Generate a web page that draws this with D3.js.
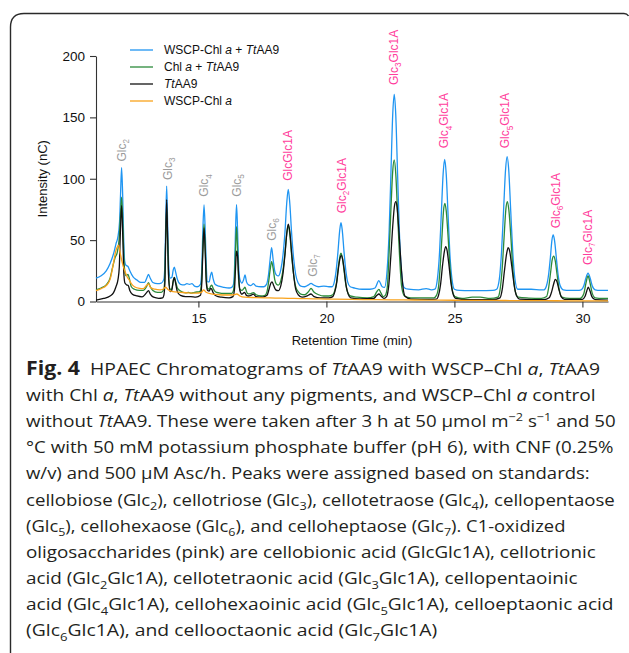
<!DOCTYPE html>
<html>
<head>
<meta charset="utf-8">
<script src="https://cdn.jsdelivr.net/npm/d3@7/dist/d3.min.js"></script>
<style>
  body { margin: 0; background: #fff; }
  svg { display: block; }
</style>
</head>
<body>
<svg id="fig" width="629" height="653"></svg>
<script>
// chromatogram traces, [retention time (min), intensity (nC)]
const wscpTtaa9 = [
  [11.0,19],[11.2,21],[11.4,25],[11.55,31],[11.7,40],[11.78,47],[11.85,52],[11.92,65],[11.96,88],[12.0,109],
  [12.04,88],[12.08,52],[12.12,33],[12.17,29.5],[12.25,28.5],[12.32,25],[12.45,20],[12.6,17.5],[12.75,15.5],
  [12.9,15.5],[12.98,19],[13.05,22],[13.12,19],[13.22,15.5],[13.4,14.5],[13.55,15],[13.65,18],[13.69,30],
  [13.72,60],[13.76,94],[13.8,62],[13.84,30],[13.9,19],[13.96,19.5],[14.02,26],[14.06,28],[14.1,25],
  [14.18,18],[14.3,14],[14.45,13.5],[14.55,14.5],[14.65,14],[14.75,14.5],[14.85,12.5],[14.95,12],[15.08,14],
  [15.13,25],[15.17,55],[15.22,78.6],[15.27,55],[15.31,28],[15.36,16],[15.42,16],[15.47,21],[15.52,24],
  [15.57,19],[15.65,14],[15.8,12.5],[16.0,11.5],[16.2,11],[16.3,11.5],[16.37,14],[16.41,26],[16.45,58],
  [16.49,79],[16.53,58],[16.57,30],[16.62,18],[16.7,15],[16.77,18],[16.82,21.6],[16.88,16],[16.96,13.5],
  [17.05,13],[17.15,14.5],[17.25,12.5],[17.45,12],[17.55,12],[17.66,14],[17.74,22],[17.8,34],[17.86,43.8],
  [17.92,34],[17.98,25],[18.05,21.5],[18.12,20.8],[18.22,26],[18.3,37],[18.38,56],[18.45,80],[18.51,91.4],
  [18.57,80],[18.64,56],[18.72,35],[18.8,22],[18.9,15],[19.0,12.5],[19.15,12],[19.3,13.5],[19.4,14.8],
  [19.5,13.5],[19.7,12],[19.9,12.5],[20.1,12],[20.22,12],[20.31,16],[20.38,25],[20.45,40],[20.52,58],
  [20.57,64.2],[20.62,58],[20.69,40],[20.76,25],[20.83,16],[20.93,12],[21.1,11],[21.4,10],[21.7,10],
  [21.9,11],[22.05,17],[22.18,12],[22.27,11.5],[22.37,25],[22.45,57],[22.52,104],[22.59,152],[22.65,168.8],
  [22.71,152],[22.78,104],[22.85,57],[22.93,25],[23.03,11.5],[23.2,10],[23.6,9.5],[23.9,10.5],[24.1,9.5],
  [24.24,10],[24.34,19],[24.42,40],[24.49,72],[24.56,104],[24.62,115.8],[24.68,104],[24.75,72],[24.82,40],
  [24.9,19],[25.0,10],[25.2,9],[25.6,8.8],[26.0,8.8],[26.5,9],[26.65,10],[26.76,19],[26.84,40],[26.92,74],
  [27.0,108],[27.06,118],[27.12,108],[27.2,74],[27.28,40],[27.36,19],[27.47,10],[27.6,10],[28.0,10],
  [28.4,9.5],[28.5,9.5],[28.6,13],[28.68,22],[28.75,36],[28.81,50],[28.86,54.2],[28.91,50],[28.98,36],
  [29.05,22],[29.13,13],[29.25,9.5],[29.5,9],[29.8,9],[29.95,9.5],[30.06,13],[30.13,18.5],[30.22,23],
  [30.31,18.5],[30.38,13],[30.5,9.5],[30.7,9],[31.0,9]
];
const chlTtaa9 = [
  [11.0,9.5],[11.2,11],[11.4,13.5],[11.55,19],[11.65,28],[11.75,36],[11.83,40],[11.9,50],[11.95,68],[12.0,85],
  [12.05,62],[12.09,35],[12.13,24],[12.18,21],[12.25,22],[12.3,19],[12.38,12],[12.5,10],[12.7,9],[12.85,9],
  [12.97,12],[13.05,15.3],[13.12,12],[13.22,9],[13.4,7.5],[13.55,7.5],[13.65,10],[13.69,20],[13.72,48],
  [13.76,76],[13.8,48],[13.84,20],[13.9,10],[13.96,10],[14.02,17],[14.06,19.7],[14.1,17],[14.18,11],
  [14.3,8.5],[14.5,7],[14.62,7.5],[14.72,6.8],[14.85,7.5],[15.05,8],[15.08,9],[15.13,18],[15.17,42],[15.22,63],
  [15.27,42],[15.31,18],[15.36,10.5],[15.42,10],[15.48,12.5],[15.52,13.4],[15.58,10.5],[15.66,8],[15.8,7],
  [16.0,6.5],[16.3,6.5],[16.37,9],[16.41,18],[16.45,42],[16.49,61],[16.53,42],[16.57,18],[16.62,10],
  [16.7,9],[16.77,10.5],[16.82,11.6],[16.88,8],[16.95,6.2],[17.05,6.5],[17.15,7.2],[17.25,5.5],[17.45,4.5],
  [17.6,5],[17.68,8],[17.75,17],[17.81,27],[17.86,32.4],[17.92,27],[17.98,18],[18.05,14],[18.12,13.4],
  [18.22,17],[18.3,25],[18.38,39],[18.45,55],[18.51,62],[18.57,55],[18.64,38],[18.72,22],[18.8,12],
  [18.9,8],[19.0,6],[19.15,5.5],[19.3,8],[19.4,10.7],[19.5,8],[19.7,5.5],[19.9,4.5],[20.1,4.5],[20.25,5.5],
  [20.33,9],[20.4,16],[20.46,27],[20.52,36],[20.57,39.3],[20.62,36],[20.68,27],[20.75,15],[20.83,7.5],
  [20.93,4.5],[21.2,3.5],[21.6,3],[21.85,4],[21.97,8],[22.05,9.9],[22.13,7],[22.22,4],[22.3,5],[22.38,12],
  [22.45,40],[22.52,75],[22.59,106],[22.65,115.3],[22.71,104],[22.78,72],[22.86,36],[22.94,12],[23.05,4.5],
  [23.3,3],[23.8,3],[24.2,3],[24.3,5],[24.38,12],[24.45,30],[24.52,55],[24.58,75],[24.63,80],[24.68,74],
  [24.75,54],[24.83,27],[24.92,9],[25.02,4],[25.3,2.5],[25.7,3.5],[26.0,3.5],[26.4,2.5],[26.7,3.5],
  [26.78,9],[26.86,25],[26.94,52],[27.01,75],[27.07,81.3],[27.13,74],[27.21,51],[27.29,24],[27.38,8],
  [27.5,3.5],[27.9,2.8],[28.4,2.5],[28.6,4],[28.68,11],[28.76,24],[28.82,34],[28.88,37],[28.94,33],
  [29.01,22],[29.1,9],[29.2,3.5],[29.5,2.5],[29.9,2.5],[30.05,6],[30.14,15],[30.22,20.8],[30.3,15],
  [30.38,7],[30.5,3],[30.8,2.5],[31.0,2.5]
];
const ttaa9 = [
  [11.0,1.2],[11.3,2.5],[11.55,4.5],[11.68,7],[11.78,12],[11.86,18],[11.91,28],[11.95,55],[12.0,78],
  [12.05,50],[12.09,22],[12.13,15],[12.2,13.5],[12.26,13],[12.32,9],[12.42,6],[12.6,4.5],[12.8,3.8],
  [12.97,7],[13.05,8.8],[13.12,6],[13.25,3.5],[13.45,2.6],[13.6,3],[13.65,5],[13.69,15],[13.72,48],[13.76,83],
  [13.8,50],[13.84,18],[13.9,8],[13.95,8.5],[14.02,17],[14.06,19.7],[14.1,16],[14.18,8],[14.3,5],[14.5,4],
  [14.7,4],[14.9,3.5],[15.08,5],[15.13,14],[15.17,38],[15.22,60],[15.27,38],[15.31,15],[15.36,9],[15.42,8.5],
  [15.48,10.7],[15.52,10],[15.58,7],[15.7,4.5],[15.9,3.5],[16.2,3],[16.35,4],[16.41,10],[16.45,27],
  [16.49,41],[16.53,37],[16.57,22],[16.62,9],[16.7,6],[16.8,7.5],[16.88,5],[16.95,4.5],[17.05,5],[17.15,6],
  [17.25,4],[17.5,3.5],[17.68,5],[17.76,10],[17.82,14.5],[17.88,16],[17.94,13],[18.02,9.5],[18.12,8.8],
  [18.22,13],[18.3,22],[18.38,38],[18.45,55],[18.51,63],[18.57,57],[18.64,40],[18.72,22],[18.8,10],
  [18.9,5.5],[19.05,3.5],[19.25,4.5],[19.4,6.1],[19.52,4],[19.75,3],[20.1,3],[20.25,4],[20.33,8],[20.4,15],
  [20.47,27],[20.53,35],[20.58,37.5],[20.63,35],[20.7,25],[20.77,13],[20.85,6],[20.95,3],[21.3,2.2],
  [21.85,2.5],[21.97,5],[22.05,6.1],[22.13,4.5],[22.25,2.5],[22.35,4],[22.44,14],[22.52,38],[22.6,64],
  [22.66,78],[22.71,81.3],[22.76,77],[22.83,58],[22.91,32],[22.99,12],[23.08,4],[23.3,2],[24.0,1.8],
  [24.3,2],[24.38,5],[24.46,14],[24.54,30],[24.61,41],[24.66,44.7],[24.71,42],[24.78,31],[24.86,16],
  [24.95,6],[25.05,2.5],[25.5,1.5],[26.5,1.5],[26.78,3],[26.87,10],[26.96,26],[27.04,39],[27.1,43.9],
  [27.16,41],[27.24,29],[27.33,14],[27.43,4.5],[27.55,2],[28.5,1.5],[28.7,3],[28.8,8],[28.88,14.5],
  [28.94,18],[29.0,16.5],[29.08,10],[29.17,4],[29.3,1.8],[30.0,1.8],[30.1,4],[30.17,8.5],[30.23,11.6],
  [30.29,9],[30.37,4],[30.5,1.5],[31.0,1.2]
];
const wscpOnly = [
  [11.0,8.8],[11.2,10.5],[11.4,13],[11.55,18],[11.68,31],[11.76,40],[11.82,44],[11.88,46],[11.94,40],
  [12.0,34],[12.06,29],[12.14,24],[12.22,20],[12.3,17.5],[12.38,14.5],[12.5,12],[12.7,10.7],[12.85,10.5],
  [12.97,13],[13.05,14.3],[13.13,11.5],[13.3,10],[13.5,9.4],[13.62,10],[13.72,11.6],[13.82,9.5],[14.0,8],
  [14.3,7.5],[14.6,7],[14.9,6.8],[15.12,7.5],[15.2,9.4],[15.3,7.5],[15.5,6.2],[15.8,5.5],[16.1,5.3],
  [16.4,5.5],[16.5,6.1],[16.62,4.5],[16.8,3.5],[17.2,3.2],[17.6,3.0],[18.0,2.8],[18.5,2.6],[19.0,2.4],
  [19.5,2.2],[20.0,2],[21.0,1.7],[22.0,1.5],[23.0,1.3],[24.0,1.1],[25.0,1.0],[26.0,0.9],[27.0,0.8],
  [28.0,0.7],[29.0,0.6],[30.0,0.5],[31.0,0.5]
];

const seriesData = [wscpTtaa9, chlTtaa9, ttaa9, wscpOnly];
const seriesColors = ['#1f95f2', '#2b8a3a', '#111111', '#f9a21b'];
const legendLabels = [
  [['WSCP-Chl '], ['a', 'i'], [' + '], ['Tt', 'i'], ['AA9']],
  [['Chl '], ['a', 'i'], [' + '], ['Tt', 'i'], ['AA9']],
  [['Tt', 'i'], ['AA9']],
  [['WSCP-Chl '], ['a', 'i']]
];

const yTicks = [0, 50, 100, 150, 200];
const xTicks = [15, 20, 25, 30];

// peak assignments: position, label foot (nC), DP subscript, oxidized?
const peakTimes = [12.0, 13.79, 15.22, 16.5, 17.86, 18.51, 19.46, 20.6, 22.63, 24.6, 26.98, 28.95, 30.2];
const peakLabelAt = [114, 99, 85.4, 85.4, 49.5, 98.4, 20.2, 71.9, 176.4, 124.8, 124.8, 59.6, 29.7];
const peakDp = ['2', '3', '4', '5', '6', '', '7', '2', '3', '4', '5', '6', '7'];
const peakOxidized = [false, false, false, false, false, true, false, true, true, true, true, true, true];

const captionLines = [
  [['Fig. 4', 'b'], ['  HPAEC Chromatograms of '], ['Tt', 'i'], ['AA9 with WSCP–Chl '], ['a', 'i'], [', '], ['Tt', 'i'], ['AA9']],
  [['with Chl '], ['a', 'i'], [', '], ['Tt', 'i'], ['AA9 without any pigments, and WSCP–Chl '], ['a', 'i'], [' control']],
  [['without '], ['Tt', 'i'], ['AA9. These were taken after 3 h at 50 μmol m'], ['−2', 'sup'], [' s'], ['−1', 'sup'], [' and 50']],
  [['°C with 50 mM potassium phosphate buffer (pH 6), with CNF (0.25%']],
  [['w/v) and 500 μM Asc/h. Peaks were assigned based on standards:']],
  [['cellobiose (Glc'], ['2', 'sub'], ['), cellotriose (Glc'], ['3', 'sub'], ['), cellotetraose (Glc'], ['4', 'sub'], ['), cellopentaose']],
  [['(Glc'], ['5', 'sub'], ['), cellohexaose (Glc'], ['6', 'sub'], ['), and celloheptaose (Glc'], ['7', 'sub'], ['). C1-oxidized']],
  [['oligosaccharides (pink) are cellobionic acid (GlcGlc1A), cellotrionic']],
  [['acid (Glc'], ['2', 'sub'], ['Glc1A), cellotetraonic acid (Glc'], ['3', 'sub'], ['Glc1A), cellopentaoinic']],
  [['acid (Glc'], ['4', 'sub'], ['Glc1A), cellohexaoinic acid (Glc'], ['5', 'sub'], ['Glc1A), celloeptaonic acid']],
  [['(Glc'], ['6', 'sub'], ['Glc1A), and cellooctaonic acid (Glc'], ['7', 'sub'], ['Glc1A)']]
];
// right edge of each caption line in the reference
const captionEnds = [604, 596, 616, 614, 590, 615, 566, 596, 578, 614, 523];

const svg = d3.select('#fig');
const chartFont = '"Liberation Sans", Arial, Helvetica, sans-serif';

// write text made of plain / italic / bold / sub / sup runs
function richText(sel, segs, size) {
  let shift = 0;
  segs.forEach(([s, kind]) => {
    const t = sel.append('tspan').text(s);
    let target = 0;
    if (kind === 'sub') target = size * 0.28;
    if (kind === 'sup') target = -size * 0.38;
    if (target !== shift) t.attr('dy', target - shift);
    shift = target;
    if (kind === 'sub' || kind === 'sup') t.attr('font-size', size * 0.68);
    if (kind === 'i') t.attr('font-style', 'italic');
    if (kind === 'b') t.attr('font-weight', 'bold').attr('font-size', size * 1.1);
  });
}

// rounded panel border
svg.append('path')
  .attr('d', 'M10.5,653 L10.5,27 Q10.5,13.5 24,13.5 L624,13.5 Q627,13.5 628.5,16')
  .attr('fill', 'none')
  .attr('stroke', '#2a2a2a')
  .attr('stroke-width', 1.4);

const x = d3.scaleLinear().domain([11, 31]).range([96, 608]);
const y = d3.scaleLinear().domain([0, 200]).range([301.5, 56]);

const gy = svg.append('g')
  .attr('transform', 'translate(96,0)')
  .call(d3.axisLeft(y).tickValues(yTicks).tickSize(6).tickSizeOuter(0));
const gx = svg.append('g')
  .attr('transform', 'translate(0,301.5)')
  .call(d3.axisBottom(x).tickValues(xTicks).tickSize(6).tickSizeOuter(0));

[gx, gy].forEach(g => {
  g.select('.domain').attr('stroke', '#333').attr('stroke-width', 1.1);
  g.selectAll('.tick line').attr('stroke', '#333').attr('stroke-width', 1.1);
  g.selectAll('.tick text')
    .attr('font-family', chartFont)
    .attr('font-size', 13.5)
    .attr('fill', '#111');
});
gx.selectAll('.tick text').attr('dy', '0.95em');
gy.selectAll('.tick text').attr('x', -11);

svg.append('text')
  .attr('x', 352)
  .attr('y', 345)
  .attr('text-anchor', 'middle')
  .attr('font-family', chartFont)
  .attr('font-size', 13)
  .attr('fill', '#111')
  .text('Retention Time (min)');

svg.append('text')
  .attr('transform', `translate(47,${y(100)}) rotate(-90)`)
  .attr('text-anchor', 'middle')
  .attr('font-family', chartFont)
  .attr('font-size', 13)
  .attr('fill', '#111')
  .text('Intensity (nC)');

// traces
const line = d3.line()
  .x(d => x(d[0]))
  .y(d => y(d[1]))
  .curve(d3.curveMonotoneX);

svg.append('g')
  .selectAll('path')
  .data(seriesData)
  .enter()
  .append('path')
  .attr('d', line)
  .attr('fill', 'none')
  .attr('stroke', (d, i) => seriesColors[i])
  .attr('stroke-width', 1.3)
  .attr('stroke-linejoin', 'round');

// peak labels, written upwards
peakTimes.forEach((t, i) => {
  let segs = [['Glc'], [peakDp[i], 'sub']];
  if (peakOxidized[i]) segs.push(['Glc1A']);
  if (peakDp[i] === '') segs = [['GlcGlc1A']];
  const lbl = svg.append('text')
    .attr('transform', `translate(${x(t) + 4.2},${y(peakLabelAt[i])}) rotate(-90)`)
    .attr('font-family', chartFont)
    .attr('font-size', 12)
    .attr('fill', peakOxidized[i] ? '#ff3d9c' : '#9c9c9c');
  richText(lbl, segs, 12);
});

// legend
const legend = svg.append('g');
legendLabels.forEach((segs, i) => {
  const ly = 50 + i * 17;
  legend.append('line')
    .attr('x1', 130).attr('x2', 153)
    .attr('y1', ly).attr('y2', ly)
    .attr('stroke', seriesColors[i])
    .attr('stroke-width', 1.3);
  const t = legend.append('text')
    .attr('x', 164)
    .attr('y', ly + 4.3)
    .attr('font-family', chartFont)
    .attr('font-size', 12)
    .attr('fill', '#111');
  richText(t, segs, 12);
});

// caption: lines set in Open Sans, squeezed to the reference measure
const caption = svg.append('g');
const capRows = captionLines.map((segs, i) => {
  const g = caption.append('g');
  const t = g.append('text')
    .attr('x', 0)
    .attr('y', 0)
    .attr('font-family', '"Open Sans", "Noto Sans", sans-serif')
    .attr('font-size', 17)
    .attr('fill', '#231f20')
    .style('white-space', 'pre');
  richText(t, segs, 17);
  return {g, sx: (captionEnds[i] - 26) / t.node().getComputedTextLength()};
});
const sxMid = d3.median(capRows, r => r.sx);
capRows.forEach((r, i) => {
  const sx = Math.min(r.sx, sxMid * 1.03);
  r.g.attr('transform', `translate(26,${375 + i * 26.1}) scale(${sx},1)`);
});
</script>
</body>
</html>
